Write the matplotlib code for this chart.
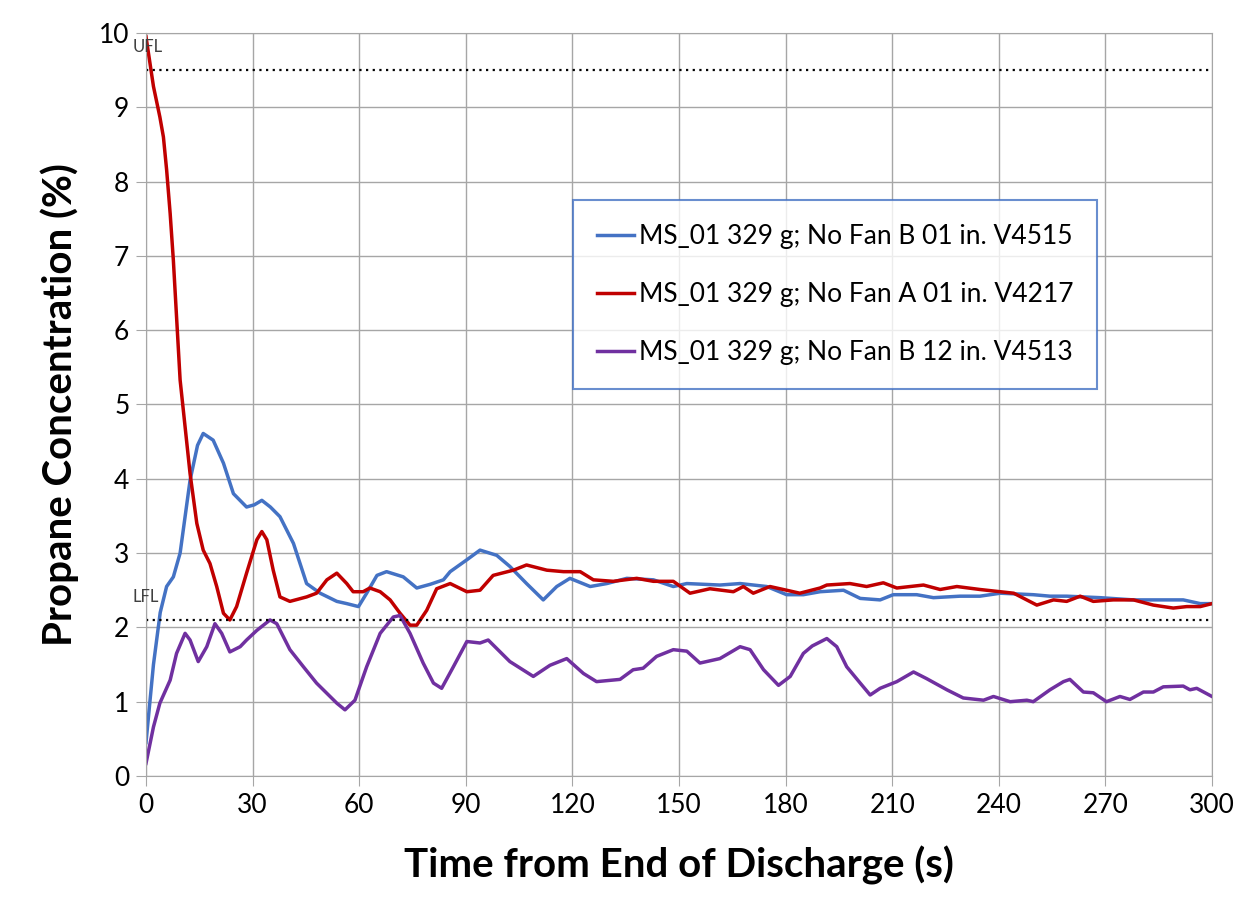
import matplotlib.pyplot as plt

blue_t = [0, 2.1, 4, 5.8, 7.7, 9.6, 12.4, 14.5, 16.1, 18.9, 21.8, 24.6, 28.3, 30.5, 32.6,
          35, 37.7, 41.5, 45.2, 49, 53.7, 56.5, 59.8, 62.1, 65, 67.7, 72.4, 76.2, 80,
          83.7, 85.6, 90.3, 94, 98.7, 102.4, 107.1, 111.8, 115.6, 119.3, 125, 129.7,
          135.3, 142.8, 148.4, 152.2, 161.5, 167.2, 174.7, 180.3, 185, 189.7, 196.3,
          201, 206.6, 210.3, 216.9, 221.6, 229.1, 234.7, 240.4, 249.7, 254.4, 259.1,
          268.5, 277.9, 291.9, 296.7, 300]
blue_c = [0.45, 1.5, 2.2, 2.55, 2.68, 3.0, 3.98, 4.45, 4.61, 4.52, 4.21, 3.80, 3.62, 3.65, 3.71,
          3.62, 3.49, 3.13, 2.59, 2.46, 2.35, 2.32, 2.28, 2.46, 2.70, 2.75, 2.68, 2.53, 2.58,
          2.64, 2.75, 2.91, 3.04, 2.97, 2.82, 2.59, 2.37, 2.55, 2.66, 2.55, 2.59,
          2.66, 2.64, 2.55, 2.59, 2.57, 2.59, 2.55, 2.44, 2.44, 2.48, 2.50,
          2.39, 2.37, 2.44, 2.44, 2.40, 2.42, 2.42, 2.46, 2.44, 2.42, 2.42,
          2.40, 2.37, 2.37, 2.32, 2.32]

red_t = [0, 2.1, 3.9, 4.9, 5.8, 6.8, 7.7, 9.6, 11, 12.4, 14.3, 16.1, 18, 19.9, 21.8, 23.6,
         25.5, 28.3, 31.2, 32.6, 34, 35.8, 37.7, 40.5, 45.2, 48, 50.9, 53.7, 56.5, 58.3,
         61.1, 63, 65.9, 68.7, 71.5, 74.3, 76.2, 79, 81.8, 85.6, 90.3, 94, 97.7, 103.4,
         107.1, 112.8, 117.5, 122.2, 125.9, 131.5, 138.1, 142.8, 148.4, 153.1, 158.7,
         165.3, 168.1, 170.9, 175.6, 180.3, 184, 189.7, 191.6, 198.1, 202.8, 207.5,
         211.3, 218.8, 223.5, 228.2, 234.7, 240.4, 244.2, 250.7, 255.4, 259.1, 262.9,
         266.6, 272.2, 277.9, 283.5, 289.1, 292.9, 296.7, 300]
red_c = [9.95, 9.28, 8.87, 8.60, 8.16, 7.57, 6.94, 5.33, 4.70, 4.07, 3.40, 3.04, 2.86, 2.55, 2.19, 2.10,
         2.28, 2.73, 3.18, 3.29, 3.18, 2.77, 2.41, 2.35, 2.41, 2.46, 2.64, 2.73, 2.59, 2.48,
         2.48, 2.53, 2.48, 2.37, 2.19, 2.03, 2.03, 2.23, 2.52, 2.59, 2.48, 2.50, 2.70, 2.77,
         2.84, 2.77, 2.75, 2.75, 2.64, 2.62, 2.66, 2.62, 2.62, 2.46, 2.52,
         2.48, 2.55, 2.46, 2.55, 2.50, 2.46, 2.53, 2.57, 2.59, 2.55, 2.60,
         2.53, 2.57, 2.51, 2.55, 2.51, 2.48, 2.46, 2.30, 2.37, 2.35, 2.42,
         2.35, 2.37, 2.37, 2.30, 2.26, 2.28, 2.28, 2.32]

purple_t = [0, 2.1, 3.9, 6.8, 8.6, 11, 12.4, 14.7, 17.1, 19.4, 21.3, 23.6, 26.5, 28.3, 31.2,
            34.9, 36.8, 40.5, 44.3, 48, 51.8, 53.7, 56, 58.8, 62.1, 65.9, 69.6, 71.5, 74.3,
            78, 80.9, 83.2, 86.5, 90.3, 94, 96.3, 102.4, 109, 113.7, 118.4, 123.1, 126.8,
            133.4, 137.1, 139.9, 143.7, 148.4, 152.2, 155.9, 161.5, 167.2, 170, 173.8, 178,
            181.3, 185, 187.5, 191.6, 194.4, 197.2, 201, 203.8, 206.6, 211.3, 216, 219.7,
            225.4, 230, 235.7, 238.5, 243.2, 247.9, 249.7, 254.4, 258.2, 260, 263.8, 266.6,
            270.3, 274.1, 276.9, 280.7, 283.5, 286.3, 291.9, 293.8, 295.7, 300]
purple_c = [0.17, 0.66, 0.98, 1.29, 1.65, 1.92, 1.83, 1.54, 1.74, 2.05, 1.92, 1.67, 1.74, 1.83, 1.96,
            2.10, 2.05, 1.70, 1.47, 1.25, 1.07, 0.98, 0.89, 1.02, 1.47, 1.92, 2.14, 2.16, 1.92,
            1.52, 1.25, 1.18, 1.47, 1.81, 1.79, 1.83, 1.54, 1.34, 1.49, 1.58, 1.38, 1.27,
            1.30, 1.43, 1.45, 1.61, 1.70, 1.68, 1.52, 1.58, 1.74, 1.70, 1.43, 1.22,
            1.34, 1.65, 1.75, 1.85, 1.74, 1.47, 1.25, 1.09, 1.18, 1.27, 1.40, 1.31,
            1.16, 1.05, 1.02, 1.07, 1.00, 1.02, 1.00, 1.16, 1.27, 1.30, 1.13, 1.12,
            1.00, 1.07, 1.03, 1.13, 1.13, 1.20, 1.21, 1.16, 1.18, 1.07]

labels = ["MS_01 329 g; No Fan B 01 in. V4515",
          "MS_01 329 g; No Fan A 01 in. V4217",
          "MS_01 329 g; No Fan B 12 in. V4513"]
ufl = 9.5
lfl = 2.1

plt.rcParams['font.family'] = ['Lato', 'DejaVu Sans']

fig = plt.figure(figsize=(12.5, 9.06), dpi=100)
ax = fig.add_axes([0.1168, 0.1435, 0.8528, 0.8201])

ax.plot(blue_t, blue_c, color='#4472C4', lw=2.5, label=labels[0])
ax.plot(red_t, red_c, color='#C00000', lw=2.5, label=labels[1])
ax.plot(purple_t, purple_c, color='#7030A0', lw=2.5, label=labels[2])

# flammability limits
ax.axhline(ufl, color='black', lw=1.6, ls=(0, (1, 2)))
ax.axhline(lfl, color='black', lw=1.6, ls=(0, (1, 2)))
ax.text(-3.9, 9.81, "UFL", fontsize=12, color='#404040', va='center', ha='left')
ax.text(-3.9, 2.41, "LFL", fontsize=12, color='#404040', va='center', ha='left')

ax.set_xlim(0, 300)
ax.set_ylim(0, 10)
ax.set_xticks(range(0, 301, 30))
ax.set_yticks(range(0, 11))
ax.grid(True, color='#A6A6A6', lw=1)
ax.set_axisbelow(True)
for s in ax.spines.values():
    s.set_color('#A6A6A6')
ax.tick_params(length=7, color='#A6A6A6', labelsize=19, pad=5)

ax.set_xlabel("Time from End of Discharge (s)", fontsize=29, fontweight='bold', labelpad=20)
ax.set_ylabel("Propane Concentration (%)", fontsize=29, fontweight='bold', labelpad=14)

leg = ax.legend(loc='upper left', bbox_to_anchor=(0.4006, 0.775), fontsize=19,
                frameon=True, fancybox=False, edgecolor='#4472C4', handlelength=1.4,
                handletextpad=0.2, borderpad=0.9, labelspacing=1.25, borderaxespad=0)
leg.get_frame().set_linewidth(1.5)

plt.savefig('out.png', dpi=100)
